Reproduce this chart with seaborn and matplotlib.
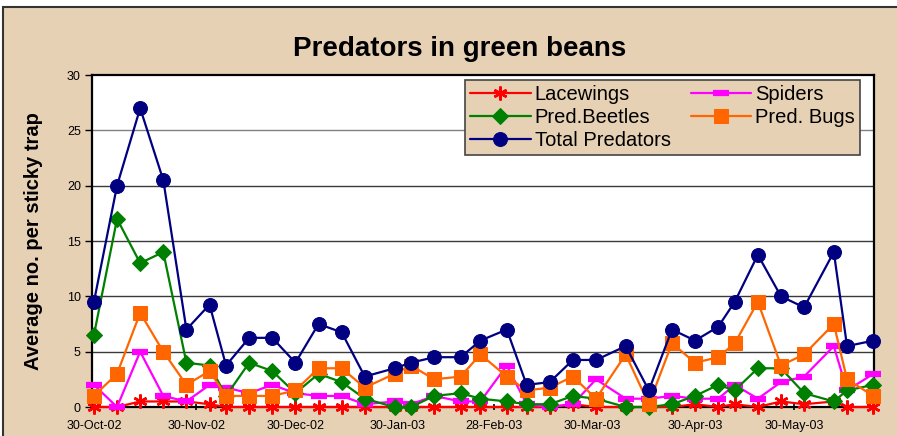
import pandas as pd
import numpy as np
import matplotlib
matplotlib.use("Agg")
import matplotlib.pyplot as plt
import matplotlib.dates as mdates
from matplotlib.patches import Rectangle
import seaborn as sns

# sample dates (weekly sticky trap counts)
dates = ["2002-10-30", "2002-11-06", "2002-11-13", "2002-11-20", "2002-11-27",
         "2002-12-04", "2002-12-09", "2002-12-16", "2002-12-23", "2002-12-30",
         "2003-01-06", "2003-01-13", "2003-01-20", "2003-01-29", "2003-02-03",
         "2003-02-10", "2003-02-18", "2003-02-24", "2003-03-04", "2003-03-10",
         "2003-03-17", "2003-03-24", "2003-03-31", "2003-04-09", "2003-04-16",
         "2003-04-23", "2003-04-30", "2003-05-07", "2003-05-12", "2003-05-19",
         "2003-05-26", "2003-06-02", "2003-06-11", "2003-06-15", "2003-06-23"]

lacewings = [0, 0, 0.5, 0.5, 0.5, 0.25, 0, 0, 0, 0,
             0, 0, 0, 0, 0, 0, 0, 0, 0, 0,
             0, 0.25, 0, 0, 0, 0, 0.25, 0, 0.25, 0,
             0.5, 0.25, 0.5, 0, 0]
spiders = [2, 0, 5, 1, 0.5, 2, 1.75, 1.25, 2, 1.25,
           1, 1, 0.25, 0.5, 0.25, 1, 0.5, 0.5, 3.75, 0.25,
           0, 0.25, 2.5, 0.75, 0.75, 1, 0.75, 0.75, 2, 0.75,
           2.25, 2.75, 5.5, 1.5, 3]
beetles = [6.5, 17, 13, 14, 4, 3.75, 1, 4, 3.25, 1.25,
           3, 2.25, 0.75, 0, 0, 1, 1.25, 0.75, 0.5, 0.25,
           0.25, 1, 0.75, 0, 0, 0.25, 1, 2, 1.5, 3.5,
           3.5, 1.25, 0.5, 1.5, 2]
bugs = [1, 3, 8.5, 5, 2, 3.25, 1, 1, 1, 1.5,
        3.5, 3.5, 1.75, 3, 3.75, 2.5, 2.75, 4.75, 2.75, 1.5,
        1.75, 2.75, 0.75, 4.75, 0.25, 5.75, 4, 4.5, 5.75, 9.5,
        3.75, 4.75, 7.5, 2.5, 1]
total = [9.5, 20, 27, 20.5, 7, 9.25, 3.75, 6.25, 6.25, 4,
         7.5, 6.75, 2.75, 3.5, 4, 4.5, 4.5, 6, 7, 2,
         2.25, 4.25, 4.25, 5.5, 1.5, 7, 6, 7.25, 9.5, 13.75,
         10, 9, 14, 5.5, 6]

tick_dates = ["2002-10-30", "2002-11-30", "2002-12-30", "2003-01-30",
              "2003-02-28", "2003-03-30", "2003-04-30", "2003-05-30"]

df = pd.DataFrame({"date": pd.to_datetime(dates),
                   "Lacewings": lacewings, "Spiders": spiders,
                   "Pred.Beetles": beetles, "Pred. Bugs": bugs,
                   "Total Predators": total})

sns.set_style("white")
plt.rcParams["font.family"] = ["Liberation Sans", "DejaVu Sans"]
plt.rcParams["text.color"] = "black"
plt.rcParams["axes.labelcolor"] = "black"
plt.rcParams["xtick.color"] = "black"
plt.rcParams["ytick.color"] = "black"

tan = "#e7d1b5"

fig = plt.figure(figsize=(8.97, 4.36), dpi=100)
fig.patch.set_facecolor("white")
# chart area frame (cut off on right/bottom as in the source)
fig.patches.append(Rectangle((3 / 897, -0.05), 1.0, 1.05 - 7 / 436,
                             transform=fig.transFigure, facecolor=tan,
                             edgecolor="#333333", linewidth=1.5, zorder=-5))

ax = fig.add_axes([92 / 897, 1 - 407 / 436, 782 / 897, 332 / 436])
ax.set_facecolor("white")
ax.set_zorder(2)

series = [
    ("Lacewings", "#ff0000", dict(marker=(6, 2, 0), markersize=10, markeredgewidth=1.8,
                                   markeredgecolor="#ff0000")),
    ("Spiders", "#ff00ff", dict(marker="_", markersize=11, markeredgewidth=4.5,
                                 markeredgecolor="#ff00ff")),
    ("Pred.Beetles", "#008000", dict(marker="D", markersize=8, markeredgecolor="#008000")),
    ("Pred. Bugs", "#ff6600", dict(marker="s", markersize=10, markeredgecolor="#ff6600")),
    ("Total Predators", "#000080", dict(marker="o", markersize=10, markeredgecolor="#000080")),
]

for i, (name, col, mk) in enumerate(series):
    sns.lineplot(data=df, x="date", y=name, ax=ax, color=col, linewidth=1.6,
                 label=name, zorder=3 + i, clip_on=False, **mk)

ax.set_ylim(0, 30)
ax.set_yticks(range(0, 31, 5))
ax.set_xlim(pd.Timestamp(dates[0]) - pd.Timedelta(hours=14), pd.Timestamp(dates[-1]) + pd.Timedelta(hours=4))
ax.set_xticks(pd.to_datetime(tick_dates))
ax.xaxis.set_major_formatter(mdates.DateFormatter("%d-%b-%y"))

for y in range(5, 30, 5):
    ax.axhline(y, color="#3a3a3a" if y != 25 else "#808080", linewidth=1, zorder=1)

for s in ax.spines.values():
    s.set_color("black")
    s.set_linewidth(1.6)
    s.set_visible(True)

ax.tick_params(axis="y", direction="out", length=5, width=1, labelsize=9, pad=3, left=True)
ax.tick_params(axis="x", direction="inout", length=5, width=1.2, labelsize=9, pad=7, bottom=True)

ax.set_xlabel("")
ax.set_ylabel("Average no. per sticky trap", fontsize=14.5, fontweight="bold", labelpad=17)

h, l = ax.get_legend_handles_labels()
lookup = dict(zip(l, h))
order = ["Lacewings", "Pred.Beetles", "Total Predators", "Spiders", "Pred. Bugs"]
leg = ax.legend([lookup[o] for o in order], order, ncol=2, loc="upper right",
                bbox_to_anchor=(0.982, 0.985), fontsize=14.5, frameon=True,
                fancybox=False, facecolor=tan, edgecolor="#444444", framealpha=1,
                handlelength=3.0, columnspacing=1.0, labelspacing=0.2,
                borderpad=0.25, handletextpad=0.2, borderaxespad=0)
leg.get_frame().set_linewidth(1.2)
leg.set_zorder(20)

fig.text(460 / 897, 1 - 49 / 436, "Predators in green beans", ha="center", va="center",
         fontsize=20, fontweight="bold")

fig.savefig("out.png", dpi=100)
